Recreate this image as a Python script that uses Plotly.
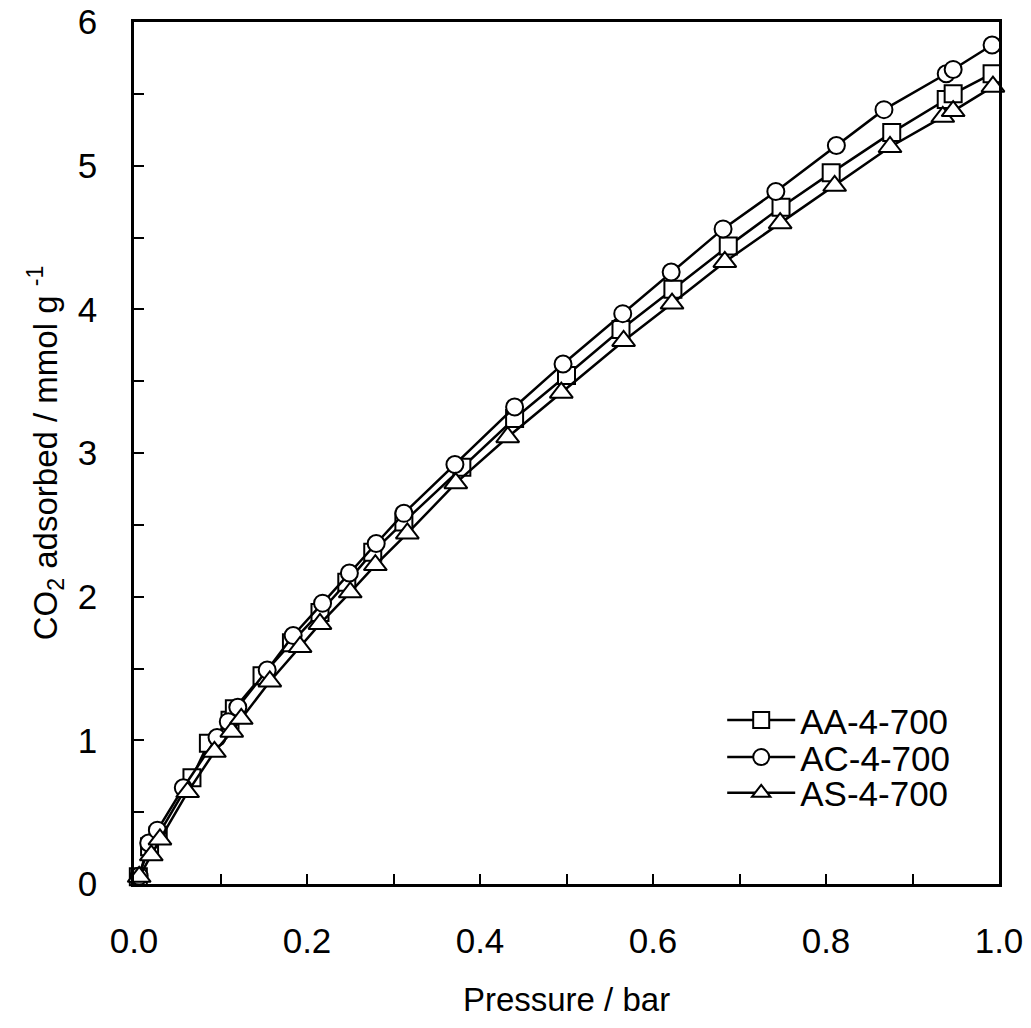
import plotly.graph_objects as go

# Pressure (bar) and CO2 uptake (mmol/g)
aa_p = [0.005, 0.018, 0.028, 0.067, 0.086, 0.111, 0.116, 0.148, 0.182, 0.215, 0.246, 0.276, 0.312,
        0.379, 0.440, 0.500, 0.563, 0.623, 0.687, 0.748, 0.806, 0.876, 0.939, 0.947, 0.992]
aa_q = [0.05, 0.26, 0.34, 0.74, 0.98, 1.14, 1.22, 1.45, 1.68, 1.89, 2.10, 2.31, 2.52,
        2.90, 3.24, 3.54, 3.86, 4.14, 4.44, 4.71, 4.95, 5.23, 5.46, 5.50, 5.64]

ac_p = [0.006, 0.017, 0.027, 0.057, 0.096, 0.109, 0.120, 0.154, 0.184, 0.218, 0.249, 0.280, 0.312,
        0.371, 0.440, 0.496, 0.565, 0.621, 0.681, 0.742, 0.812, 0.867, 0.939, 0.947, 0.992]
ac_q = [0.055, 0.285, 0.375, 0.67, 1.02, 1.13, 1.23, 1.49, 1.73, 1.955, 2.165, 2.37, 2.58,
        2.92, 3.32, 3.62, 3.97, 4.26, 4.56, 4.82, 5.14, 5.39, 5.64, 5.67, 5.84]

as_p = [0.006, 0.020, 0.030, 0.062, 0.093, 0.113, 0.124, 0.157, 0.192, 0.215, 0.250, 0.279, 0.316,
        0.372, 0.432, 0.494, 0.566, 0.622, 0.683, 0.747, 0.810, 0.874, 0.935, 0.947, 0.993]
as_q = [0.05, 0.20, 0.31, 0.64, 0.92, 1.06, 1.15, 1.41, 1.65, 1.81, 2.03, 2.22, 2.44,
        2.79, 3.11, 3.42, 3.78, 4.04, 4.33, 4.60, 4.86, 5.13, 5.34, 5.38, 5.55]

series_names = ["AA-4-700", "AC-4-700", "AS-4-700"]
x_tickvals = [0.0, 0.2, 0.4, 0.6, 0.8, 1.0]
x_ticktext = ["0.0", "0.2", "0.4", "0.6", "0.8", "1.0"]
y_tickvals = [0, 1, 2, 3, 4, 5, 6]

FONT = "Liberation Sans, Arial, sans-serif"

fig = go.Figure()
specs = [
    (aa_p, aa_q, series_names[0], "square", 17, "legend"),
    (ac_p, ac_q, series_names[1], "circle", 17, "legend2"),
    (as_p, as_q, series_names[2], "triangle-up", 20, "legend3"),
]
for xs, ys, name, sym, sz, lg in specs:
    fig.add_trace(go.Scatter(
        x=xs, y=ys, name=name, mode="lines+markers",
        line=dict(color="black", width=2.5),
        marker=dict(symbol=sym, size=sz, color="white",
                    line=dict(color="black", width=2)),
        cliponaxis=False, legend=lg,
    ))

def leg(yc):
    return dict(x=0.680, y=yc, xanchor="left", yanchor="middle",
                bgcolor="rgba(0,0,0,0)", font=dict(size=35, family=FONT, color="black"),
                itemwidth=68)

fig.update_layout(
    width=1031, height=1028,
    margin=dict(l=126, r=40, t=14, b=152, autoexpand=False),
    paper_bgcolor="white", plot_bgcolor="white",
    font=dict(family=FONT, size=35, color="black"),
    showlegend=True,
    legend=leg(0.190),
    legend2=leg(0.147),
    legend3=leg(0.1055),
)
fig.update_xaxes(
    range=[0, 1], tickvals=x_tickvals, ticktext=x_ticktext,
    ticks="inside", ticklen=10, tickwidth=2, tickcolor="black",
    minor=dict(dtick=0.1, ticks="inside", ticklen=10, tickwidth=2, tickcolor="black"),
    showline=True, linecolor="black", linewidth=2.5, mirror=True,
    showgrid=False, zeroline=False, ticklabelstandoff=24, automargin=False,
    ticklabeloverflow="allow",
    title=dict(text="Pressure / bar", font=dict(size=33), standoff=30),
)
fig.update_yaxes(
    range=[0, 6], tickvals=y_tickvals,
    ticks="inside", ticklen=10, tickwidth=2, tickcolor="black",
    minor=dict(dtick=0.5, ticks="inside", ticklen=10, tickwidth=2, tickcolor="black"),
    showline=True, linecolor="black", linewidth=2.5, mirror=True,
    showgrid=False, zeroline=False, ticklabelstandoff=27, automargin=False,
    ticklabeloverflow="allow",
    title=dict(text="CO<sub>2</sub> adsorbed / mmol g <sup>-1</sup>", font=dict(size=33), standoff=11),
)

fig.write_html("out.html")
